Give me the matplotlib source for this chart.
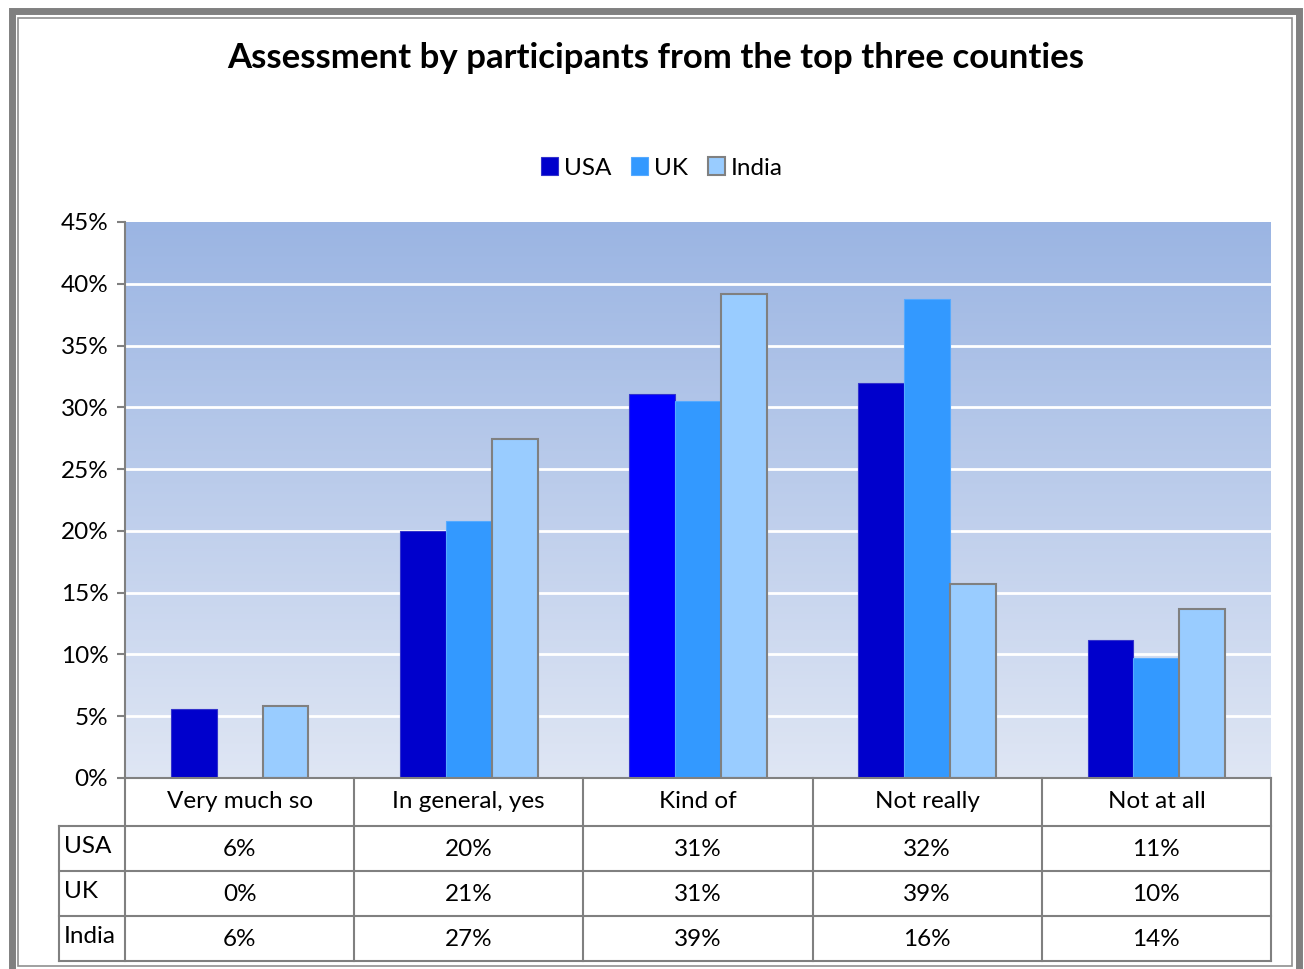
import numpy as np
import matplotlib.pyplot as plt
from matplotlib.patches import Rectangle
from matplotlib.lines import Line2D

plt.rcParams['font.family'] = ['Lato', 'DejaVu Sans']

categories = ["Very much so", "In general, yes", "Kind of", "Not really", "Not at all"]
countries = ["USA", "UK", "India"]
usa = [5.6, 20.0, 31.1, 32.0, 11.2]
uk = [0.0, 20.8, 30.5, 38.8, 9.7]
india = [5.8, 27.4, 39.2, 15.7, 13.7]
usa_lbl = ["6%", "20%", "31%", "32%", "11%"]
uk_lbl = ["0%", "21%", "31%", "39%", "10%"]
india_lbl = ["6%", "27%", "39%", "16%", "14%"]

W, H = 1304, 969
fig = plt.figure(figsize=(W / 100, H / 100), dpi=100)


def fx(x):
    return x / W


def fy(y):
    return 1 - y / H


GREY = "#808080"
FS = 17.5
# outer frame
fig.add_artist(Rectangle((fx(11.5), fy(985)), fx(1287), fy(11.5) - fy(985),
                         transform=fig.transFigure, fill=False, lw=5, ec=GREY))
fig.add_artist(Rectangle((fx(18), fy(966)), fx(1274), fy(18) - fy(966),
                         transform=fig.transFigure, fill=False, lw=1.2, ec="#909090"))

ax_l, ax_r, ax_t, ax_b = 125, 1271, 222, 778
ax = fig.add_axes([fx(ax_l), fy(ax_b), fx(ax_r - ax_l), fy(ax_t) - fy(ax_b)])

# gradient background
grad = np.linspace(0, 1, 256).reshape(-1, 1)
top = np.array([0x9B, 0xB5, 0xE3]) / 255
bot = np.array([0xDF, 0xE6, 0xF4]) / 255
img = bot + (top - bot) * grad
ax.imshow(img[:, None, :].repeat(2, axis=1), extent=[0, len(categories), 0, 45],
          origin="lower", aspect="auto", zorder=0)

x = np.arange(len(categories)) + 0.5
bw = 0.2
usa_colors = ["#0000CC", "#0000CC", "#0000FF", "#0000CC", "#0000CC"]
ax.bar(x - bw, usa, bw, color=usa_colors, edgecolor="#3333CC", lw=0.8, zorder=3, label="USA")
ax.bar(x, uk, bw, color="#3399FF", edgecolor="#55AAFF", lw=0.8, zorder=3, label="UK")
ax.bar(x + bw, india, bw, color="#99CCFF", edgecolor=GREY, lw=1.5, zorder=3, label="India")

ax.set_xlim(0, len(categories))
ax.set_ylim(0, 45)
ax.set_yticks(np.arange(0, 46, 5))
ax.set_yticklabels([f"{v}%" for v in range(0, 46, 5)], fontsize=FS)
ax.set_xticks([])
for v in range(5, 45, 5):
    ax.axhline(v, color="white", lw=2, zorder=1)
for s in ["top", "right", "bottom"]:
    ax.spines[s].set_visible(False)
ax.spines["left"].set_color(GREY)
ax.spines["left"].set_linewidth(1.5)
ax.tick_params(axis="y", length=6, width=1.5, color=GREY, pad=6)

fig.text(fx(656), fy(58), "Assessment by participants from the top three counties",
         ha="center", va="center", fontsize=25, fontweight="bold")
fig.legend(loc="center", bbox_to_anchor=(fx(662), fy(168)), ncol=3, frameon=False,
           fontsize=FS, handlelength=0.7, handleheight=0.7, handletextpad=0.25,
           columnspacing=0.8)

# data table
col_w = (ax_r - ax_l) / len(categories)
edges = [ax_l + i * col_w for i in range(len(categories) + 1)]
rows_y = [778, 826, 871, 916, 961]
lab_x = 59


def line(x0, y0, x1, y1):
    fig.add_artist(Line2D([fx(x0), fx(x1)], [fy(y0), fy(y1)], color=GREY, lw=1.5,
                          transform=fig.transFigure))


line(ax_l, rows_y[0], ax_r, rows_y[0])
for y in rows_y[1:]:
    line(lab_x, y, ax_r, y)
for e in edges:
    line(e, rows_y[0], e, rows_y[-1])
line(lab_x, rows_y[1], lab_x, rows_y[-1])

for i, c in enumerate(categories):
    cx = (edges[i] + edges[i + 1]) / 2
    fig.text(fx(cx), fy((rows_y[0] + rows_y[1]) / 2), c, ha="center", va="center", fontsize=FS)
    for r, lbls in enumerate([usa_lbl, uk_lbl, india_lbl]):
        fig.text(fx(cx), fy((rows_y[r + 1] + rows_y[r + 2]) / 2 + 1), lbls[i],
                 ha="center", va="center", fontsize=FS)
for r, name in enumerate(countries):
    fig.text(fx(lab_x + 5), fy((rows_y[r + 1] + rows_y[r + 2]) / 2 - 2), name,
             ha="left", va="center", fontsize=FS)

fig.savefig("out.png", dpi=100)
